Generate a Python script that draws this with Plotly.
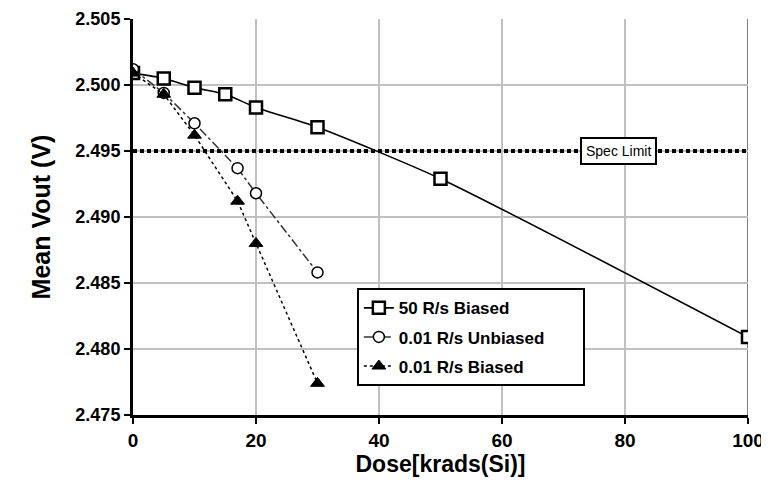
import plotly.graph_objects as go

# Data
dose_50 = [0, 5, 10, 15, 20, 30, 50, 100]
vout_50_biased = [2.5009, 2.5005, 2.4998, 2.4993, 2.4983, 2.4968, 2.4929, 2.4809]

dose_001_unb = [0, 5, 10, 17, 20, 30]
vout_001_unbiased = [2.5012, 2.4994, 2.4971, 2.4937, 2.4918, 2.4858]

dose_001_b = [0, 5, 10, 17, 20, 30]
vout_001_biased = [2.5009, 2.4993, 2.4962, 2.4912, 2.4880, 2.4774]

spec_limit = 2.495
spec_x = [0, 100]

x_ticks = [0, 20, 40, 60, 80, 100]
y_ticks = [2.475, 2.480, 2.485, 2.490, 2.495, 2.500, 2.505]
y_tick_text = ["2.475", "2.480", "2.485", "2.490", "2.495", "2.500", "2.505"]

FONT = "Liberation Sans, Arial, sans-serif"
NB = "\u00a0"

fig = go.Figure()

fig.add_trace(go.Scatter(
    x=spec_x, y=[spec_limit, spec_limit], mode="lines",
    line=dict(color="black", width=4, dash="4px,3px"),
    showlegend=False, hoverinfo="skip"))

fig.add_trace(go.Scatter(
    x=dose_50, y=vout_50_biased, mode="lines+markers", name="50 R/s Biased",
    legendgroup="a",
    line=dict(color="black", width=1.6, shape="spline", smoothing=0.6),
    marker=dict(symbol="square", size=12, color="white",
                line=dict(color="black", width=2.5))))

fig.add_trace(go.Scatter(
    x=dose_001_unb, y=vout_001_unbiased, mode="lines+markers",
    name="0.01 R/s Unbiased" + NB * 7,
    legendgroup="b",
    line=dict(color="#333333", width=1.5, dash="dashdot"),
    marker=dict(symbol="circle", size=11, color="white",
                line=dict(color="black", width=1.5))))

fig.add_trace(go.Scatter(
    x=dose_001_b, y=vout_001_biased, mode="lines+markers", name="0.01 R/s Biased",
    legendgroup="c",
    line=dict(color="black", width=1.5, dash="dot"),
    marker=dict(symbol="triangle-up", size=12, color="black",
                line=dict(color="black", width=1))))

fig.add_annotation(
    x=79, y=spec_limit, xref="x", yref="y", text="Spec Limit", showarrow=False,
    font=dict(family=FONT, size=14, color="black"),
    bgcolor="white", bordercolor="black", borderwidth=2, borderpad=4)

fig.update_layout(
    width=761, height=473,
    margin=dict(l=125, r=21, t=11, b=66),
    paper_bgcolor="white", plot_bgcolor="white",
    font=dict(family=FONT, color="black"),
    legend=dict(
        x=0.364, y=0.32, xanchor="left", yanchor="top",
        bgcolor="white", bordercolor="black", borderwidth=2,
        font=dict(family=FONT, size=17, color="black", weight="bold"),
        tracegroupgap=4,
    ),
    xaxis=dict(
        range=[0, 100], tickvals=x_ticks, automargin=False,
        ticklabeloverflow="allow",
        showgrid=True, gridcolor="#c0c0c0", gridwidth=2,
        showline=True, linecolor="black", linewidth=3,
        ticks="outside", ticklen=6, tickwidth=2, tickcolor="black",
        tickfont=dict(family=FONT, size=19, color="black", weight="bold"),
        title=dict(text="<b>Dose[krads(Si)]</b>", font=dict(family=FONT, size=23), standoff=2),
        zeroline=False, mirror=False,
    ),
    yaxis=dict(
        range=[2.475, 2.505], tickvals=y_ticks, ticktext=y_tick_text, automargin=False,
        ticklabeloverflow="allow",
        showgrid=True, gridcolor="#c0c0c0", gridwidth=2,
        showline=True, linecolor="black", linewidth=3,
        ticks="outside", ticklen=6, tickwidth=2, tickcolor="black",
        tickfont=dict(family=FONT, size=18, color="black", weight="bold"),
        title=dict(text="<b>Mean Vout (V)</b>", font=dict(family=FONT, size=25), standoff=18),
        zeroline=False,
    ),
)

# right border of the plot area (darker gray)
fig.add_shape(type="line", xref="x", yref="paper", x0=100, x1=100, y0=0, y1=1,
              line=dict(color="#808080", width=2), layer="below")

fig.write_html("out.html")
